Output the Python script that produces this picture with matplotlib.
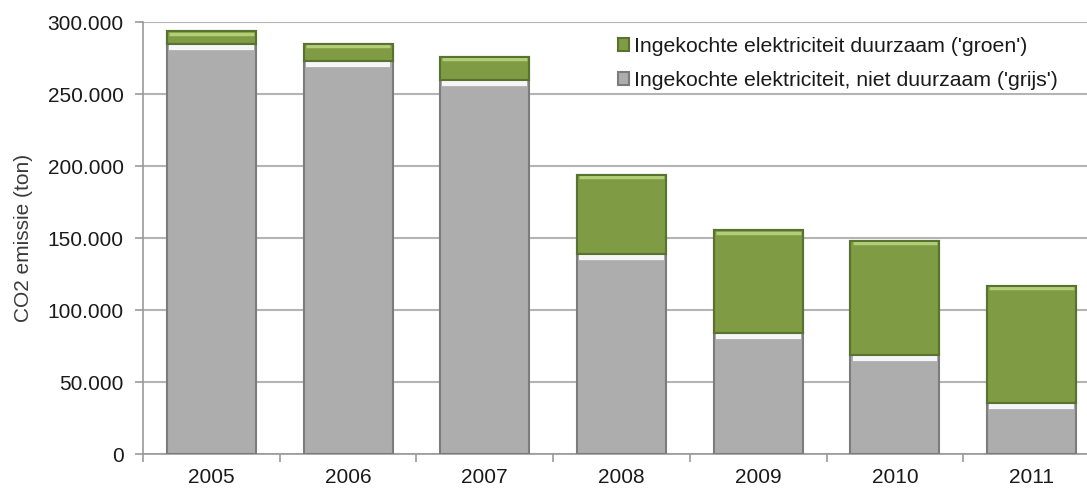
import matplotlib
matplotlib.use("Agg")
import matplotlib.pyplot as plt
from matplotlib.ticker import FuncFormatter, FixedLocator
import numpy as np

years = ["2005", "2006", "2007", "2008", "2009", "2010", "2011"]
grijs = [285000, 273000, 260000, 139000, 84000, 69000, 35500]
groen = [8500, 12000, 16000, 55000, 71500, 79000, 81500]
label_groen = "Ingekochte elektriciteit duurzaam ('groen')"
label_grijs = "Ingekochte elektriciteit, niet duurzaam ('grijs')"
y_ticks = [0, 50000, 100000, 150000, 200000, 250000, 300000]

plt.rcParams['font.family'] = ['Liberation Sans', 'DejaVu Sans']

W, H = 1087, 488
fig = plt.figure(figsize=(W / 100, H / 100), dpi=100)
AXW = 1100 - 143
ax = fig.add_axes([143 / W, (H - 454) / H, AXW / W, (454 - 22) / H])

x = np.arange(len(years))
bw = 0.65
grey_c = "#adadad"
grey_e = "#7c7c7c"
green_c = "#7f9c44"
green_e = "#5a7230"

b1 = ax.bar(x, grijs, width=bw, color=grey_c, edgecolor=grey_e, linewidth=1.5,
            label=label_grijs, zorder=3)
b2 = ax.bar(x, groen, width=bw, bottom=grijs, color=green_c, edgecolor=green_e,
            linewidth=1.5, label=label_groen, zorder=3)
# bevel highlights
tot = np.array(grijs) + np.array(groen)
ax.hlines(np.array(grijs) - 2200, x - bw / 2 + 0.015, x + bw / 2 - 0.015,
          color="#f6f6f6", linewidth=4.5, zorder=4)
ax.hlines(tot - 1700, x - bw / 2 + 0.015, x + bw / 2 - 0.015,
          color="#b2cf78", linewidth=2.5, zorder=4)
ax.bar(x, groen, width=bw, bottom=grijs, color="none", edgecolor=green_e,
       linewidth=1.5, zorder=5)

ax.set_ylim(0, 300000)
ax.set_xlim(-0.5, len(years) - 0.5)
ax.set_yticks(y_ticks)
ax.yaxis.set_major_formatter(FuncFormatter(lambda v, p: f"{int(v):,}".replace(",", ".")))
ax.grid(axis="y", color="#b4b4b4", linewidth=1.5, zorder=0)
ax.set_axisbelow(True)

ax.set_xticks(x)
ax.set_xticklabels(years)
ax.xaxis.set_minor_locator(FixedLocator(np.arange(-0.5, len(years), 1.0)))
ax.tick_params(axis="x", which="major", length=0, pad=10, labelsize=15, labelcolor="#1a1a1a")
ax.tick_params(axis="x", which="minor", length=6, width=1.2, color="#9a9a9a")
ax.tick_params(axis="y", length=6, width=1.2, color="#9a9a9a", pad=8, labelsize=15,
               labelcolor="#1a1a1a")

for s in ["top", "right"]:
    ax.spines[s].set_visible(False)
for s in ["left", "bottom"]:
    ax.spines[s].set_color("#9a9a9a")
    ax.spines[s].set_linewidth(1.2)

ax.set_ylabel("CO2 emissie (ton)", fontsize=15, color="#3a3a3a")
ax.yaxis.set_label_coords(-110 / AXW, 0.5)

leg = ax.legend(handles=[b2, b1], loc="upper left",
                bbox_to_anchor=((607 - 143) / AXW, 1.0 - 4 / 432),
                frameon=False, fontsize=15.3, handlelength=0.55, handleheight=0.55,
                handletextpad=0.2, labelspacing=0.72, borderaxespad=0.1)
for t in leg.get_texts():
    t.set_color("#1a1a1a")

fig.savefig("out.png", dpi=100)
